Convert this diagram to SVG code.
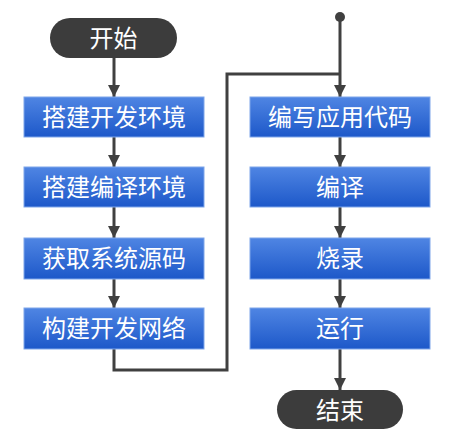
<svg xmlns="http://www.w3.org/2000/svg" width="460" height="445" viewBox="0 0 460 445">
<defs>
<linearGradient id="blue" x1="0" y1="0" x2="0" y2="1">
<stop offset="0" stop-color="#4f85e3"/>
<stop offset="1" stop-color="#1d58c9"/>
</linearGradient>
<marker id="arr" viewBox="0 0 10 10" refX="10" refY="5" markerWidth="4" markerHeight="4" markerUnits="strokeWidth" orient="auto">
<path d="M0,0 L10,5 L0,10 Z" fill="#404040"/>
</marker>
</defs>
<style>
.box{fill:url(#blue);stroke:#7ea6ea;stroke-width:1}
.pill{fill:#3c3c3c}
.t{font-family:"Noto Sans CJK SC","Noto Sans",sans-serif;font-size:24px;fill:#ffffff;text-anchor:middle}
.c{stroke:#404040;stroke-width:3;fill:none}
</style>
<rect width="460" height="445" fill="#ffffff"/>
<g id="connectors">
<line class="c" x1="114" y1="58" x2="114" y2="97" marker-end="url(#arr)"/>
<line class="c" x1="114" y1="137" x2="114" y2="167" marker-end="url(#arr)"/>
<line class="c" x1="114" y1="207" x2="114" y2="238" marker-end="url(#arr)"/>
<line class="c" x1="114" y1="279" x2="114" y2="308" marker-end="url(#arr)"/>
<polyline class="c" points="114,349 114,370 227,370 227,74 340,74"/>
<circle cx="340" cy="17" r="5" fill="#404040"/>
<line class="c" x1="340" y1="17" x2="340" y2="97" marker-end="url(#arr)"/>
<line class="c" x1="340" y1="137" x2="340" y2="167" marker-end="url(#arr)"/>
<line class="c" x1="340" y1="207" x2="340" y2="238" marker-end="url(#arr)"/>
<line class="c" x1="340" y1="279" x2="340" y2="308" marker-end="url(#arr)"/>
<line class="c" x1="340" y1="349" x2="340" y2="390" marker-end="url(#arr)"/>
</g>
<g id="start"><rect class="pill" x="50" y="18" width="127" height="40" rx="20"/><text class="t" x="113.5" y="46.5">开始</text></g>
<g id="n1"><rect class="box" x="24" y="97" width="180" height="40"/><text class="t" x="114" y="125.5">搭建开发环境</text></g>
<g id="n2"><rect class="box" x="24" y="167" width="180" height="40"/><text class="t" x="114" y="195.5">搭建编译环境</text></g>
<g id="n3"><rect class="box" x="24" y="238" width="180" height="41"/><text class="t" x="114" y="267">获取系统源码</text></g>
<g id="n4"><rect class="box" x="24" y="308" width="180" height="41"/><text class="t" x="114" y="337">构建开发网络</text></g>
<g id="n5"><rect class="box" x="250" y="97" width="180" height="40"/><text class="t" x="340" y="125.5">编写应用代码</text></g>
<g id="n6"><rect class="box" x="250" y="167" width="180" height="40"/><text class="t" x="340" y="195.5">编译</text></g>
<g id="n7"><rect class="box" x="250" y="238" width="180" height="41"/><text class="t" x="340" y="267">烧录</text></g>
<g id="n8"><rect class="box" x="250" y="308" width="180" height="41"/><text class="t" x="340" y="337">运行</text></g>
<g id="end"><rect class="pill" x="277" y="390" width="126" height="39" rx="19.5"/><text class="t" x="340" y="418.5">结束</text></g>
</svg>
